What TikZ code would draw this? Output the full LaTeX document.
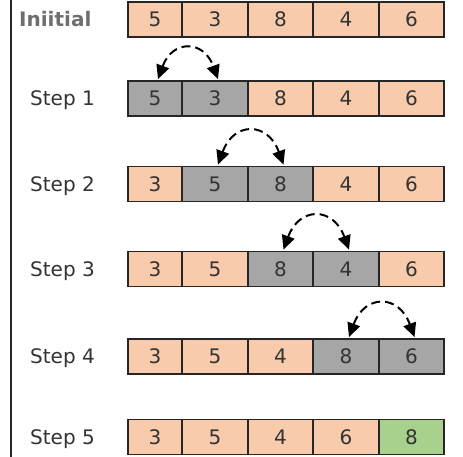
\documentclass[tikz,border=0pt]{standalone}
\usepackage{fontspec}
\setmainfont{DejaVu Sans}
\usetikzlibrary{arrows.meta}
\definecolor{cellor}{HTML}{F8CBAD}
\definecolor{cellgr}{HTML}{A6A6A6}
\definecolor{cellgn}{HTML}{A9D18E}
\definecolor{labelgray}{HTML}{6E6E6E}
\definecolor{textdark}{HTML}{333333}
\begin{document}
\begin{tikzpicture}[x=1pt,y=1pt,
    cell/.style={draw=black!85,line width=1.8pt,minimum height=35pt,inner sep=0pt,
      text height=14.6pt,text depth=0pt,text=textdark,font=\fontsize{20}{20}\selectfont},
    steplabel/.style={anchor=west,inner sep=0pt,text height=14.6pt,text depth=0pt,
      text=textdark,font=\fontsize{20}{20}\selectfont},
    swaparrow/.style={line width=2pt,dash pattern=on 9pt off 5pt,
      {Triangle[length=14pt,width=13pt]}-{Triangle[length=14pt,width=13pt]}}]
        \useasboundingbox (0,0) rectangle (463,-457);
        % Draw left border
        \draw[line width=2pt,black!85] (11,0) -- (11,-457);
        % Draw rows of cells
        \foreach \r/\y/\cells in {0/19.5/{5/or,3/or,8/or,4/or,6/or},
                                  1/98.5/{5/gr,3/gr,8/or,4/or,6/or},
                                  2/184/{3/or,5/gr,8/gr,4/or,6/or},
                                  3/269/{3/or,5/or,8/gr,4/gr,6/or},
                                  4/356.5/{3/or,5/or,4/or,8/gr,6/gr},
                                  5/437/{3/or,5/or,4/or,6/or,8/gn}}{
          \foreach \v/\f [count=\c] in \cells {
            \pgfmathsetmacro{\cx}{{155,215,280.5,346,411.5}[\c-1]}
            \pgfmathsetmacro{\cw}{{54,66,65,66,65}[\c-1]}
            \node[cell,fill=cell\f,minimum width=\cw pt] (s\r-\c) at (\cx,-\y) {\v};
          }
        }
        % Draw labels
        \node[steplabel,text=labelgray,font=\fontsize{20}{20}\selectfont\bfseries] (l0) at (19,-19.5) {Iniitial};
        \foreach \r in {1,...,5}
          \node[steplabel] (l\r) at (30,-0 |- s\r-1.west) {Step \r};
        % Draw swap arrows
        \foreach \r/\a/\b in {1/1/2,2/2/3,3/3/4,4/4/5}
          \draw[swaparrow] ([xshift=3pt,yshift=1pt]s\r-\a.north) to[out=70,in=110,looseness=1.8] ([xshift=3pt,yshift=1pt]s\r-\b.north);
      \end{tikzpicture}
\end{document}
